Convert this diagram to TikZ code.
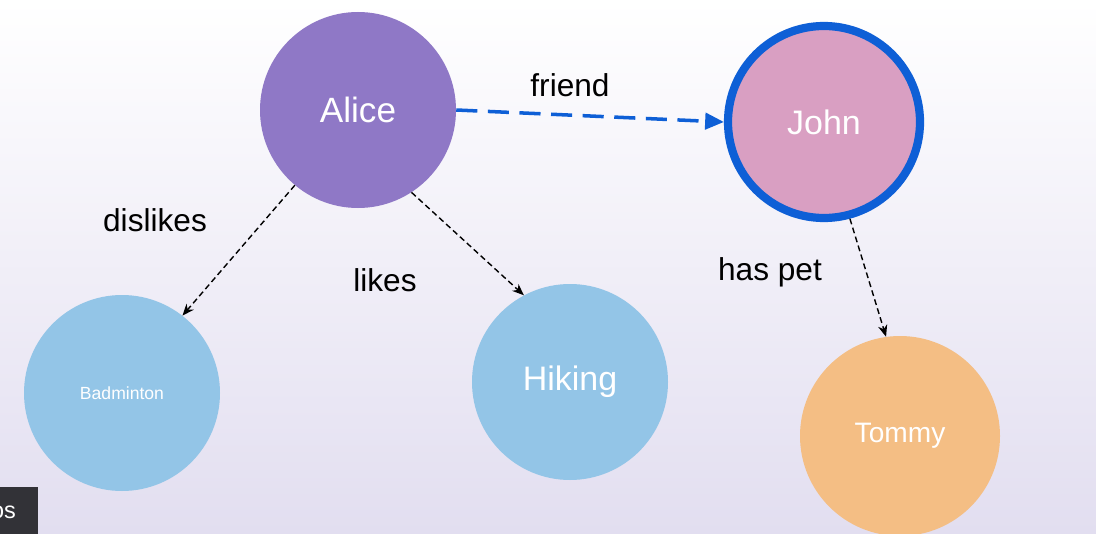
\documentclass[tikz,border=0pt]{standalone}
\usepackage{fontspec}
\setmainfont{Liberation Sans}
\usetikzlibrary{arrows.meta}
\definecolor{alice}{HTML}{8F78C6}
\definecolor{john}{HTML}{D99FC2}
\definecolor{jborder}{HTML}{0E5FD6}
\definecolor{sky}{HTML}{93C5E7}
\definecolor{tommy}{HTML}{F4BE84}
\begin{document}
\begin{tikzpicture}[x=0.03cm,y=-0.03cm,
  circ/.style={circle,draw=none,inner sep=0pt,minimum size=196*0.03cm,text=white},
  lbl/.style={font=\fontsize{27}{29}\selectfont,text=black},
  dep/.style={draw=black,dash pattern=on 5pt off 3pt,line width=1.2pt,-{Stealth[length=10pt,width=8pt]}}]
\shade[top color=white,bottom color={rgb,255:red,226;green,222;blue,240}] (0,0) rectangle (1096,534);
\useasboundingbox (0,0) rectangle (1096,534);
\node[circ,fill=alice,font=\fontsize{30}{32}\selectfont] (alice) at (358,110) {Alice};
\node[circ,fill=john,draw=jborder,line width=7pt,minimum size=192*0.03cm,font=\fontsize{29}{31}\selectfont] (john) at (824,122) {John};
\node[circ,fill=sky,font=\fontsize{15}{17}\selectfont] (bad) at (122,393) {Badminton};
\node[circ,fill=sky,font=\fontsize{29}{31}\selectfont] (hik) at (570,382) {Hiking};
\node[circ,fill=tommy,minimum size=200*0.03cm,font=\fontsize{24}{26}\selectfont] (tom) at (900,436) {Tommy};
\draw[draw=jborder,dash pattern=on 18pt off 9pt,line width=3pt,-{Triangle[length=16pt,width=14pt]}] (alice.east) -- (john.west);
\draw[dep] (alice.-130) -- (bad.52);
\draw[dep] (alice.-57) -- (hik.118);
\draw[dep] (john.-75) -- (tom.98);
\node[lbl] (l1) at (570,85) {friend};
\node[lbl] (l2) at (155,220) {dislikes};
\node[lbl] (l3) at (385,280) {likes};
\node[lbl] (l4) at (770,272) {has pet};
\fill[fill={rgb,255:red,50;green,50;blue,55}] (0,487) rectangle (38,534);
\node[text=white,font=\fontsize{20}{22}\selectfont,anchor=east] (os) at (20,512) {os};
\end{tikzpicture}
\end{document}
